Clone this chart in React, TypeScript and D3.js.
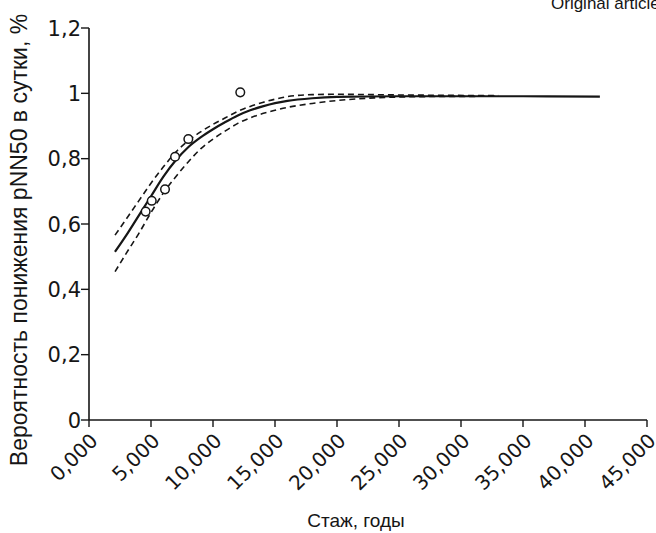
import React, { useEffect, useRef } from 'react';
import * as d3 from 'd3';

// observed points (стаж, годы / вероятность)
const pointX = [4.57, 5.06, 6.13, 6.94, 8.01, 12.2];
const pointY = [0.638, 0.671, 0.706, 0.806, 0.86, 1.003];

// fitted curve and its confidence band
const curveX = [2.1, 3, 4, 5, 6, 7, 8, 9, 10, 11, 12, 13, 14, 15, 16, 18, 20, 25, 30, 35, 41.2];
const curveY = [0.515, 0.565, 0.625, 0.685, 0.745, 0.795, 0.835, 0.865, 0.89, 0.912, 0.932, 0.948, 0.96, 0.97, 0.977, 0.985, 0.989, 0.991, 0.991, 0.991, 0.99];

const upperX = [2.1, 3, 4, 5, 6, 7, 8, 9, 10, 11, 12, 13, 14, 15, 16, 18, 20, 25, 33];
const upperY = [0.566, 0.615, 0.67, 0.725, 0.775, 0.82, 0.855, 0.882, 0.905, 0.925, 0.945, 0.96, 0.972, 0.982, 0.99, 0.996, 0.997, 0.995, 0.993];

const lowerX = [2.1, 3, 4, 5, 6, 7, 8, 9, 10, 11, 12, 13, 14, 15, 16, 18, 20, 23, 27, 33];
const lowerY = [0.454, 0.51, 0.57, 0.635, 0.695, 0.745, 0.79, 0.83, 0.86, 0.885, 0.908, 0.925, 0.938, 0.948, 0.957, 0.969, 0.978, 0.986, 0.99, 0.991];

const xTicks = [0, 5, 10, 15, 20, 25, 30, 35, 40, 45];
const xTickLabels = ['0,000', '5,000', '10,000', '15,000', '20,000', '25,000', '30,000', '35,000', '40,000', '45,000'];
const yTicks = [0, 0.2, 0.4, 0.6, 0.8, 1, 1.2];
const yTickLabels = ['0', '0,2', '0,4', '0,6', '0,8', '1', '1,2'];

const App = () => {
    const svgRef = useRef<SVGSVGElement>(null);

    useEffect(() => {
        const width = 656;
        const height = 533;
        const font = '"Liberation Sans", Arial, sans-serif';
        const tickFont = '"DejaVu Sans", sans-serif';
        const ink = '#161616';

        const svg = d3.select(svgRef.current);
        svg.selectAll('*').remove();
        svg.attr('width', width).attr('height', height);

        svg.append('rect').attr('width', width).attr('height', height).attr('fill', '#ffffff');

        const x = d3.scaleLinear().domain([0, 45]).range([89, 647]);
        const y = d3.scaleLinear().domain([0, 1.2]).range([420, 28]);

        // header remnant (cut by the page edge, as in the scan)
        svg.append('text')
            .attr('x', 551)
            .attr('y', 9)
            .attr('font-family', font)
            .attr('font-size', 17)
            .attr('fill', ink)
            .text('Original article');

        // y axis
        svg.append('line')
            .attr('x1', x(0)).attr('x2', x(0))
            .attr('y1', y(0)).attr('y2', y(1.2))
            .attr('stroke', ink).attr('stroke-width', 1.6);

        yTicks.forEach((t, i) => {
            svg.append('line')
                .attr('x1', x(0) - 8).attr('x2', x(0))
                .attr('y1', y(t)).attr('y2', y(t))
                .attr('stroke', ink).attr('stroke-width', 1.4);
            svg.append('text')
                .attr('x', x(0) - 8)
                .attr('y', y(t))
                .attr('dy', '0.36em')
                .attr('text-anchor', 'end')
                .attr('font-family', tickFont)
                .attr('font-size', 21)
                .attr('fill', ink)
                .text(yTickLabels[i]);
        });

        // x axis
        svg.append('line')
            .attr('x1', x(0)).attr('x2', x(45))
            .attr('y1', y(0)).attr('y2', y(0))
            .attr('stroke', ink).attr('stroke-width', 1.6);

        xTicks.forEach((t, i) => {
            svg.append('line')
                .attr('x1', x(t)).attr('x2', x(t))
                .attr('y1', y(0)).attr('y2', y(0) + 7)
                .attr('stroke', ink).attr('stroke-width', 1.4);
            const lx = x(t) + 10;
            const ly = y(0) + 22;
            svg.append('text')
                .attr('transform', `translate(${lx},${ly}) rotate(-45)`)
                .attr('text-anchor', 'end')
                .attr('font-family', tickFont)
                .attr('font-size', 20)
                .attr('fill', ink)
                .text(xTickLabels[i]);
        });

        // axis titles
        svg.append('text')
            .attr('transform', `translate(27,240) rotate(-90)`)
            .attr('text-anchor', 'middle')
            .attr('font-family', font)
            .attr('font-size', 23)
            .attr('fill', ink)
            .text('Вероятность понижения pNN50 в сутки, %');

        svg.append('text')
            .attr('x', 356)
            .attr('y', 527)
            .attr('text-anchor', 'middle')
            .attr('font-family', font)
            .attr('font-size', 19)
            .attr('fill', ink)
            .text('Стаж, годы');

        const line = d3.line<[number, number]>()
            .x(d => x(d[0]))
            .y(d => y(d[1]))
            .curve(d3.curveMonotoneX);

        const toPairs = (xs: number[], ys: number[]) => xs.map((v, i) => [v, ys[i]] as [number, number]);

        svg.append('path')
            .attr('d', line(toPairs(upperX, upperY)))
            .attr('fill', 'none')
            .attr('stroke', ink)
            .attr('stroke-width', 1.6)
            .attr('stroke-dasharray', '6,4');

        svg.append('path')
            .attr('d', line(toPairs(lowerX, lowerY)))
            .attr('fill', 'none')
            .attr('stroke', ink)
            .attr('stroke-width', 1.6)
            .attr('stroke-dasharray', '6,4');

        svg.append('path')
            .attr('d', line(toPairs(curveX, curveY)))
            .attr('fill', 'none')
            .attr('stroke', ink)
            .attr('stroke-width', 2.2);

        svg.append('g')
            .selectAll('circle')
            .data(toPairs(pointX, pointY))
            .enter()
            .append('circle')
            .attr('cx', d => x(d[0]))
            .attr('cy', d => y(d[1]))
            .attr('r', 4.3)
            .attr('fill', '#ffffff')
            .attr('stroke', ink)
            .attr('stroke-width', 1.5);
    }, []);

    return (
        <svg ref={svgRef} style={{ position: 'absolute', left: 0, top: 0, display: 'block' }}></svg>
    );
};

export default App;
